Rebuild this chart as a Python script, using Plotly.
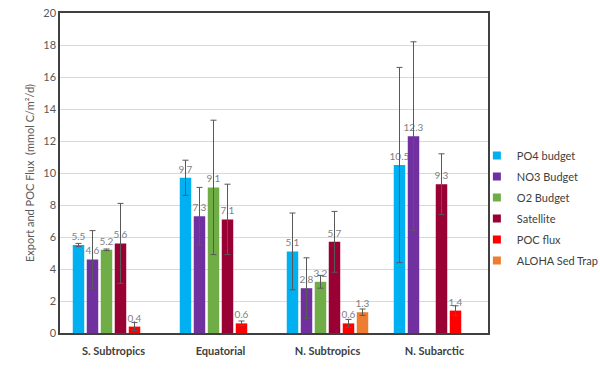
import plotly.graph_objects as go

categories = ["S. Subtropics", "Equatorial", "N. Subtropics", "N. Subarctic"]

series_names = ["PO4 budget", "NO3 Budget", "O2 Budget", "Satellite", "POC flux", "ALOHA Sed Trap"]
series_colors = ["#00B0F0", "#7030A0", "#70AD47", "#990033", "#FF0000", "#ED7D31"]

po4_values = [5.5, 9.7, 5.1, 10.5]
po4_err = [0.1, 1.1, 2.4, 6.1]
no3_values = [4.6, 7.3, 2.8, 12.3]
no3_err = [1.8, 1.8, 1.9, 5.9]
o2_values = [5.2, 9.1, 3.2, None]
o2_err = [0.05, 4.2, 0.4, 0]
sat_values = [5.6, 7.1, 5.7, 9.3]
sat_err = [2.5, 2.2, 1.9, 1.9]
poc_values = [0.4, 0.6, 0.6, 1.4]
poc_err = [0.25, 0.15, 0.25, 0.3]
aloha_values = [None, None, 1.3, None]
aloha_err = [0, 0, 0.2, 0]

all_values = [po4_values, no3_values, o2_values, sat_values, poc_values, aloha_values]
all_errs = [po4_err, no3_err, o2_err, sat_err, poc_err, aloha_err]

y_ticks = list(range(0, 21, 2))

FONT = "Lato, 'Open Sans', sans-serif"

fig = go.Figure()
for name, color, vals, errs in zip(series_names, series_colors, all_values, all_errs):
    fig.add_trace(go.Bar(
        x=categories, y=vals, name=name,
        marker=dict(color=color, line=dict(width=0)),
        error_y=dict(type="data", array=errs, visible=True, color="#595959", thickness=1, width=3),
        text=[f"{v:.1f}" if v is not None else "" for v in vals],
        textposition="outside", constraintext="none", cliponaxis=False,
        textfont=dict(size=10, color="#7F7F7F", family=FONT),
        showlegend=False,
    ))
    # legend marker (small square)
    fig.add_trace(go.Scatter(
        x=[None], y=[None], mode="markers", name=name, legendgroup=name,
        marker=dict(symbol="square", size=8, color=color),
        showlegend=True,
    ))

fig.update_layout(
    width=600, height=371,
    margin=dict(l=60, r=112, t=13, b=38, autoexpand=False),
    paper_bgcolor="white", plot_bgcolor="white",
    barmode="group", bargap=0.215, bargroupgap=0.18,
    font=dict(family=FONT, color="#595959", size=11),
    legend=dict(
        x=0.974, y=0.6, xanchor="left", yanchor="top",
        font=dict(size=11, color="#404040", family=FONT),
        itemwidth=30, tracegroupgap=2, bgcolor="rgba(0,0,0,0)",
    ),
    yaxis=dict(
        range=[0, 20], tickvals=y_ticks, showgrid=True, gridcolor="#D9D9D9", gridwidth=1,
        zeroline=False, showline=True, mirror=True, linecolor="#404040", linewidth=1.5,
        ticks="", tickfont=dict(size=11, color="#595959"),
        title=dict(text="Export and POC Flux  (mmol C/m²/d)", font=dict(size=11, color="#595959"), standoff=6),
    ),
    xaxis=dict(
        showline=True, mirror=True, linecolor="#404040", linewidth=1.5, ticks="",
        ticklabelstandoff=7,
        tickfont=dict(size=11, color="#404040", family="Lato, sans-serif", weight="bold"),
    ),
)

fig.write_html(
    "out.html",
    config={"displayModeBar": False},
    post_script="document.body.style.margin='0';document.body.style.overflow='hidden';",
)
